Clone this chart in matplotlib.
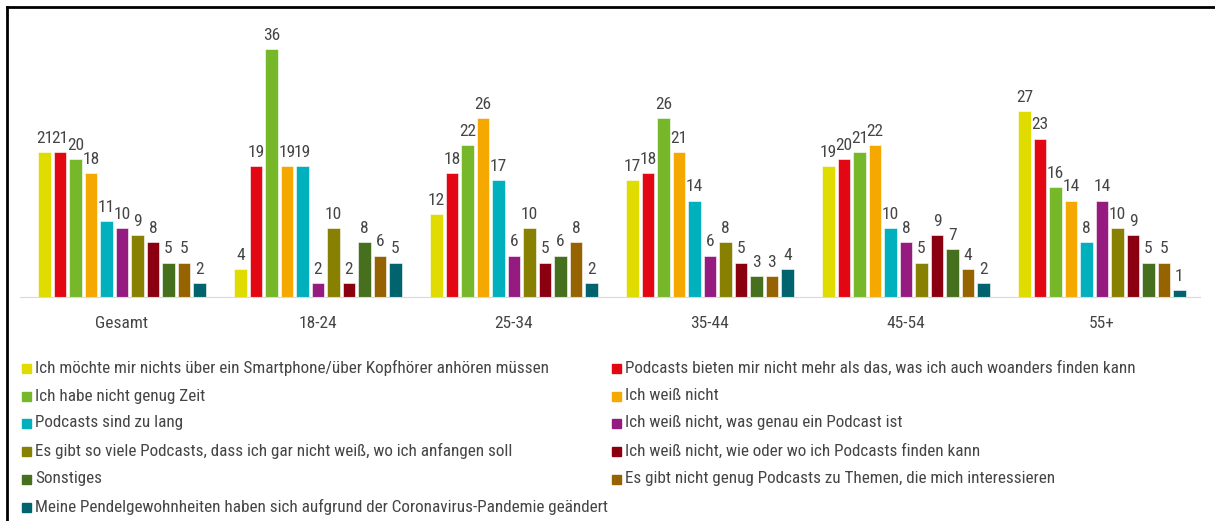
import matplotlib
matplotlib.use("Agg")
import matplotlib.pyplot as plt
from matplotlib import font_manager as fm
from matplotlib.lines import Line2D
import numpy as np

# look for a narrow regular font, the reference uses a condensed face
cands = [f for f in fm.fontManager.ttflist
         if (f.stretch in ("condensed", "semi-condensed", "extra-condensed")
             or "Narrow" in f.name or "Condensed" in f.name)
         and f.style == "normal" and f.weight in (400, "normal", "regular")]
if cands:
    cands.sort(key=lambda f: (0 if "Liberation" in f.name else 1 if "Roboto" in f.name else 2))
    fp = fm.FontProperties(fname=cands[0].fname)
    narrow = True
else:
    fp = fm.FontProperties(family="DejaVu Sans")
    narrow = False

groups = ["Gesamt", "18-24", "25-34", "35-44", "45-54", "55+"]
labels = [
    "Ich möchte mir nichts über ein Smartphone/über Kopfhörer anhören müssen",
    "Podcasts bieten mir nicht mehr als das, was ich auch woanders finden kann",
    "Ich habe nicht genug Zeit",
    "Ich weiß nicht",
    "Podcasts sind zu lang",
    "Ich weiß nicht, was genau ein Podcast ist",
    "Es gibt so viele Podcasts, dass ich gar nicht weiß, wo ich anfangen soll",
    "Ich weiß nicht, wie oder wo ich Podcasts finden kann",
    "Sonstiges",
    "Es gibt nicht genug Podcasts zu Themen, die mich interessieren",
    "Meine Pendelgewohnheiten haben sich aufgrund der Coronavirus-Pandemie geändert",
]
colors = ["#E0DC00", "#E30613", "#76B82A", "#F5A800", "#00B0BC", "#951B81",
          "#878000", "#8A0010", "#466F1E", "#956300", "#00636E"]

gesamt = [21, 21, 20, 18, 11, 10, 9, 8, 5, 5, 2]
age_18_24 = [4, 19, 36, 19, 19, 2, 10, 2, 8, 6, 5]
age_25_34 = [12, 18, 22, 26, 17, 6, 10, 5, 6, 8, 2]
age_35_44 = [17, 18, 26, 21, 14, 6, 8, 5, 3, 3, 4]
age_45_54 = [19, 20, 21, 22, 10, 8, 5, 9, 7, 4, 2]
age_55 = [27, 23, 16, 14, 8, 14, 10, 9, 5, 5, 1]

data = np.array([gesamt, age_18_24, age_25_34, age_35_44, age_45_54, age_55])

fs_lab = 12.5 if narrow else 10.5
fs_leg = 12.3 if narrow else 9.8

fig = plt.figure(figsize=(12.15, 5.21), dpi=100)
ax = fig.add_axes([20/1215, 224/521, 1180/1215, 0.529])

x = np.arange(len(groups))
step = 0.079
width = 0.064
txt = "#454545"
for i in range(len(labels)):
    pos = x + (i - 5) * step
    vals = data[:, i]
    ax.bar(pos, vals, width, color=colors[i], edgecolor="white", linewidth=0.4)
    for p, v in zip(pos, vals):
        ax.text(p, v + 0.9, str(v), ha="center", va="bottom", fontproperties=fp,
                fontsize=fs_lab, color=txt)

ax.set_xlim(-0.52, 5.5)
ax.set_ylim(0, 40)
ax.set_xticks(x)
ax.set_xticklabels(groups)
for t in ax.get_xticklabels():
    t.set_fontproperties(fp)
    t.set_fontsize(fs_lab)
    t.set_color(txt)
ax.tick_params(axis="x", length=0, pad=14)
ax.set_yticks([])
for s in ["left", "right", "top"]:
    ax.spines[s].set_visible(False)
ax.spines["bottom"].set_color("#d9d9d9")

# legend in two columns, row-wise order
col_x = [22/1215, 612/1215]
row_y = [368, 396, 423, 451, 479, 507]
for i, (c, lab) in enumerate(zip(colors, labels)):
    cx = col_x[i % 2]
    cy = 1 - row_y[i // 2] / 521
    fig.patches.append(plt.Rectangle((cx, cy - 4.5/521), 9/1215, 9/521,
                                     transform=fig.transFigure, color=c))
    fig.text(cx + 13/1215, cy, lab, fontproperties=fp, fontsize=fs_leg, color=txt,
             va="center", ha="left")

# frame lines (top and left)
fig.add_artist(Line2D([7/1215, 1], [1 - 7/521, 1 - 7/521], color="black", lw=2,
                      transform=fig.transFigure))
fig.add_artist(Line2D([7/1215, 7/1215], [0, 1 - 7/521], color="black", lw=2,
                      transform=fig.transFigure))

fig.savefig("out.png", dpi=100)
